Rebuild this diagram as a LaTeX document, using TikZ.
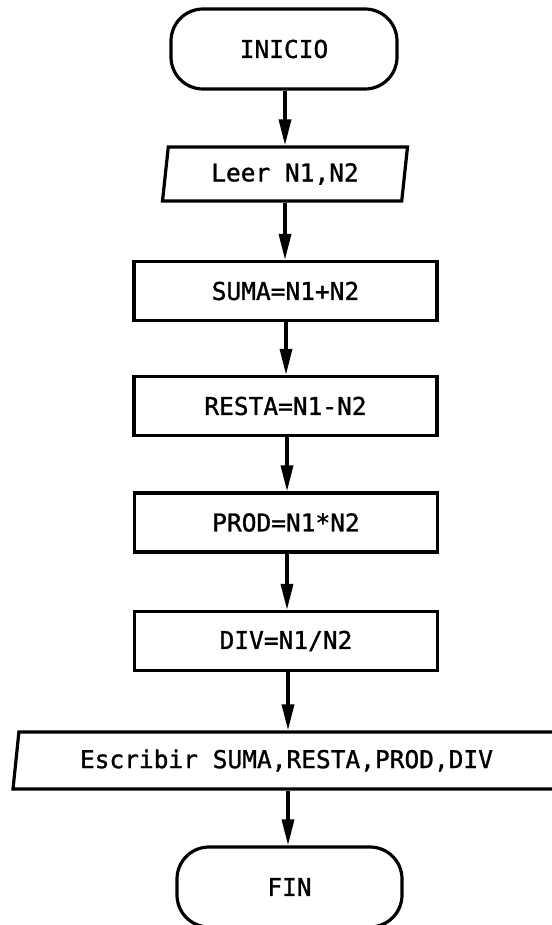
\documentclass[tikz,border=0pt]{standalone}
\usepackage{fontspec}
\setmonofont[FakeBold=1.2]{DejaVu Sans Mono}
\usetikzlibrary{shapes.geometric,arrows.meta}
\begin{document}
\begin{tikzpicture}[x=1pt,y=-1pt,
  base/.style={draw, line width=3.2pt, inner sep=0pt, font=\ttfamily\fontsize{24.5}{28}\selectfont},
  term/.style={base, rectangle, rounded corners=32pt, minimum width=226pt, minimum height=80pt},
  proc/.style={base, rectangle, minimum width=303pt, minimum height=59pt},
  io/.style={base, trapezium, trapezium left angle=75, trapezium right angle=105,
             trapezium stretches body, minimum height=54pt},
  arr/.style={line width=3.4pt, -{Triangle[length=26pt,width=12pt]}}]
\useasboundingbox (0,0) rectangle (551,925);
\node[term] (ini) at (284,49) {INICIO};
\node[io, minimum width=245pt] (leer) at (285,174) {Leer N1,N2};
\node[proc] (suma) at (285.5,291) {SUMA=N1+N2};
\node[proc] (resta) at (285.5,406) {RESTA=N1-N2};
\node[proc] (prod) at (286,522.5) {PROD=N1*N2};
\node[proc] (div) at (286,641) {DIV=N1/N2};
\node[io, minimum width=547pt, minimum height=57pt] (esc) at (286.5,760.5) {Escribir SUMA,RESTA,PROD,DIV};
\node[term, minimum width=225pt] (fin) at (289.5,887) {FIN};
\draw[arr] (ini.south -| 285,0) -- (285,0 |- leer.north);
\draw[arr] (leer.south -| 285,0) -- (285,0 |- suma.north);
\draw[arr] (suma.south -| 286,0) -- (286,0 |- resta.north);
\draw[arr] (resta.south -| 287,0) -- (287,0 |- prod.north);
\draw[arr] (prod.south -| 287,0) -- (287,0 |- div.north);
\draw[arr] (div.south -| 288,0) -- (288,0 |- esc.north);
\draw[arr] (esc.south -| 288,0) -- (288,0 |- fin.north);
\end{tikzpicture}
\end{document}
